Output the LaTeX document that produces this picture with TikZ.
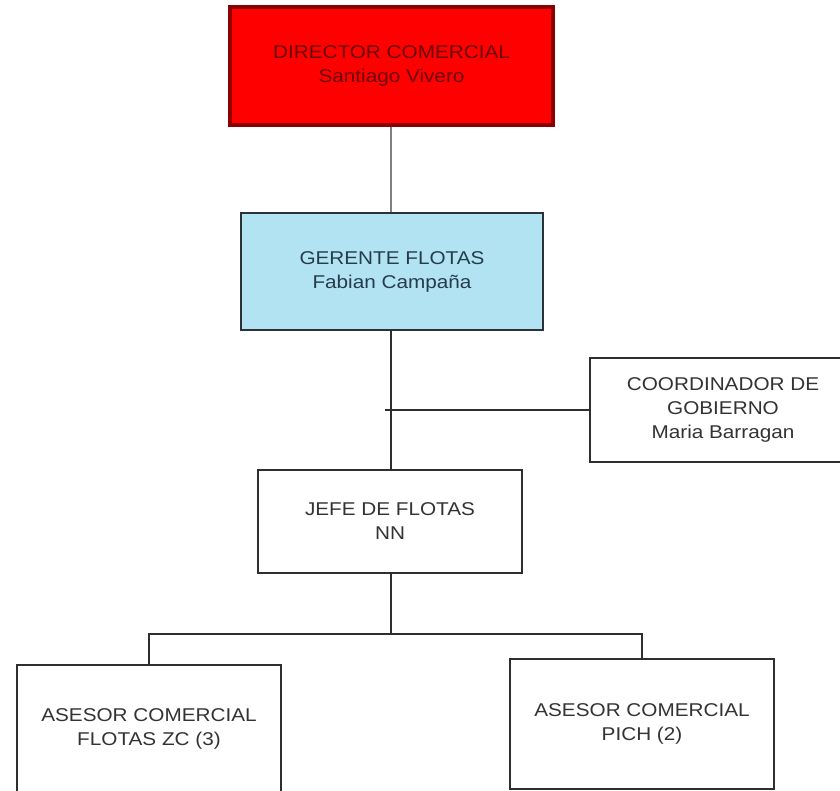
\documentclass[tikz,border=0pt]{standalone}
\usepackage{fontspec}
\setmainfont[FakeStretch=1.12]{Liberation Sans}
\definecolor{dirfill}{HTML}{FF0000}
\definecolor{dirline}{HTML}{8E0000}
\definecolor{dirtext}{HTML}{6A0606}
\definecolor{gerfill}{HTML}{B2E3F3}
\definecolor{gerline}{HTML}{2A3238}
\definecolor{gertext}{HTML}{263C4A}
\definecolor{boxline}{HTML}{2E2E2E}
\definecolor{boxtext}{HTML}{333333}
\begin{document}
\begin{tikzpicture}[x=1pt,y=-1pt,
  orgbox/.style={draw=boxline,line width=1.8pt,fill=white,inner sep=0pt,
    align=center,text=boxtext,font=\fontsize{18.5}{24}\selectfont},
  link/.style={draw=boxline,line width=1.6pt}]
\clip (0,0) rectangle (840,791);
\fill[white] (0,0) rectangle (840,791);

% boxes of the chart
\node[orgbox,fill=dirfill,draw=dirline,line width=4pt,text=dirtext,
  minimum width=323pt,minimum height=118pt] (dir) at (391.5,66)
  {DIRECTOR COMERCIAL\\Santiago Vivero};
\node[orgbox,fill=gerfill,draw=gerline,text=gertext,
  minimum width=302pt,minimum height=117pt] (ger) at (392,271.5)
  {GERENTE FLOTAS\\Fabian Campaña};
\node[orgbox,minimum width=266pt,minimum height=104pt] (coord) at (723,410)
  {COORDINADOR DE\\GOBIERNO\\Maria Barragan};
\node[orgbox,minimum width=264pt,minimum height=103pt] (jefe) at (390,521.5)
  {JEFE DE FLOTAS\\NN};
\node[orgbox,minimum width=264pt,minimum height=128pt] (asez) at (149,729)
  {ASESOR COMERCIAL\\FLOTAS ZC (3)};
\node[orgbox,minimum width=264pt,minimum height=130pt] (asep) at (642,724)
  {ASESOR COMERCIAL\\PICH (2)};

% connectors
\coordinate (stub) at (385,410);
\coordinate (bus) at (391,634);
\draw[link,draw=gray] (dir.south -| 391,0) -- (ger.north -| 391,0);
\draw[link] (ger.south -| 391,0) -- (jefe.north -| 391,0);
\draw[link] (stub) -- (coord.west);
\draw[link] (jefe.south -| 391,0) -- (bus);
\draw[link] (bus) -| (asez.north);
\draw[link] (bus) -| (asep.north);
\end{tikzpicture}
\end{document}
